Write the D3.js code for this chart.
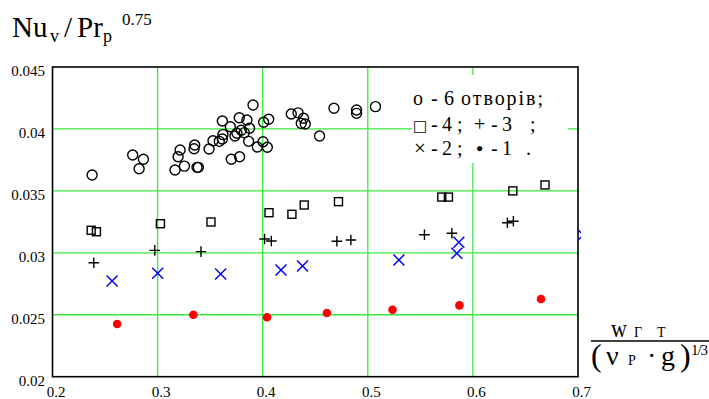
<!DOCTYPE html>
<html><head><meta charset="utf-8">
<script src="https://cdn.jsdelivr.net/npm/d3@7"></script>
<style>body{margin:0;background:#fff;}</style></head>
<body><svg id="c" width="709" height="399" font-family="Liberation Serif"></svg>
<script>
const xTicks=[0.2,0.3,0.4,0.5,0.6,0.7];
const yTicks=[0.02,0.025,0.03,0.035,0.04,0.045];
const xTickLabels=["0.2","0.3","0.4","0.5","0.6","0.7"];
const yTickLabels=["0.02","0.025","0.03","0.035","0.04","0.045"];
// 6 holes (open circles)
const circ6=[[0.2377,0.03628],[0.2763,0.0379],[0.2865,0.03755],[0.2824,0.03679],[0.3166,0.03669],[0.3214,0.0383],[0.3195,0.03776],[0.3255,0.0370],[0.3347,0.0384],[0.3353,0.0387],[0.3375,0.0369],[0.3388,0.0369],[0.349,0.03838],[0.3527,0.03905],[0.3587,0.0390],[0.3616,0.03919],[0.3622,0.03954],[0.3616,0.04064],[0.3692,0.04018],[0.3701,0.03755],[0.378,0.03776],[0.3736,0.03943],[0.3755,0.03965],[0.3777,0.0409],[0.3796,0.0399],[0.3825,0.0397],[0.385,0.04072],[0.3875,0.04005],[0.3866,0.0390],[0.3908,0.04193],[0.3949,0.03854],[0.4003,0.03897],[0.4044,0.03852],[0.4009,0.04054],[0.4057,0.04078],[0.4272,0.0412],[0.4336,0.0413],[0.4389,0.04086],[0.4367,0.04045],[0.4405,0.0404],[0.4541,0.03943],[0.4678,0.04167],[0.4893,0.04153],[0.4893,0.04126],[0.5073,0.0418]];
// 4 holes (open squares)
const sq4=[[0.2368,0.03182],[0.2418,0.0317],[0.3027,0.03235],[0.3508,0.03249],[0.406,0.03324],[0.4278,0.03311],[0.4395,0.03386],[0.4721,0.03413],[0.5704,0.0345],[0.5767,0.0345],[0.638,0.0350],[0.6686,0.03548]];
// 3 holes (plus)
const plus3=[[0.2393,0.0292],[0.2973,0.0302],[0.3413,0.0301],[0.4018,0.03112],[0.4082,0.03096],[0.4706,0.03093],[0.4839,0.03104],[0.5539,0.03146],[0.58,0.03158],[0.6328,0.03243],[0.6385,0.03255]];
// 2 holes (blue x)
const x2=[[0.2567,0.02773],[0.3001,0.02835],[0.36,0.02829],[0.4174,0.02861],[0.4379,0.02894],[0.5296,0.02942],[0.5866,0.03085],[0.5847,0.02996],[0.705,0.03144]];
// 1 hole (red dots)
const dot1=[[0.2615,0.02425],[0.334,0.0250],[0.4041,0.0248],[0.4611,0.02514],[0.5235,0.02541],[0.5872,0.02576],[0.6648,0.02627]];

const FONT="Liberation Serif";
const svg=d3.select("#c");
const L=52.5,R=578,T=67,B=376.7;
const x=d3.scaleLinear().domain([0.2,0.7]).range([L,R]);
const y=d3.scaleLinear().domain([0.02,0.045]).range([B,T]);

svg.append("defs").append("clipPath").attr("id","clip").append("rect")
  .attr("x",L).attr("y",T).attr("width",R-L+3).attr("height",B-T);

// grid
const g=svg.append("g");
g.selectAll(".gx").data(xTicks.slice(1,-1)).join("line")
  .attr("x1",d=>x(d)).attr("x2",d=>x(d)).attr("y1",T).attr("y2",B)
  .attr("stroke","#3ee83e").attr("stroke-width",1.3);
g.selectAll(".gy").data(yTicks.slice(1,-1)).join("line")
  .attr("y1",d=>y(d)).attr("y2",d=>y(d)).attr("x1",L).attr("x2",R)
  .attr("stroke","#3ee83e").attr("stroke-width",1.3);

// legend background
svg.append("rect").attr("x",412).attr("y",75).attr("width",156).attr("height",88).attr("fill","#fff");

// frame
svg.append("rect").attr("x",L).attr("y",T).attr("width",R-L).attr("height",B-T)
  .attr("fill","none").attr("stroke","#000").attr("stroke-width",1.6);

// tick labels
const xa=d3.axisBottom(x).tickValues(xTicks).tickSize(0).tickPadding(3).tickFormat((d,i)=>xTickLabels[i]);
const gxa=svg.append("g").attr("transform",`translate(0,383)`).call(xa)
  .attr("font-family",FONT).attr("font-size",15);
gxa.select(".domain").remove();
gxa.selectAll("text").attr("font-family",FONT).attr("font-size",15).attr("fill","#000").attr("dx",3);
const ya=d3.axisLeft(y).tickValues(yTicks).tickSize(0).tickPadding(3).tickFormat((d,i)=>yTickLabels[i]);
const gya=svg.append("g").attr("transform",`translate(48,0)`).call(ya)
  .attr("font-family",FONT).attr("font-size",15);
gya.select(".domain").remove();
gya.selectAll("text").attr("font-family",FONT).attr("font-size",15).attr("fill","#000").attr("y",3.8);

// data
const pg=svg.append("g").attr("clip-path","url(#clip)");
pg.selectAll(".c6").data(circ6).join("circle")
  .attr("cx",d=>x(d[0])).attr("cy",d=>y(d[1])).attr("r",5)
  .attr("fill","none").attr("stroke","#000").attr("stroke-width",1.4);
pg.selectAll(".s4").data(sq4).join("rect")
  .attr("x",d=>x(d[0])-4).attr("y",d=>y(d[1])-4).attr("width",8).attr("height",8)
  .attr("fill","none").attr("stroke","#000").attr("stroke-width",1.4);
pg.selectAll(".p3").data(plus3).join("path")
  .attr("d",d=>{const cx=x(d[0]),cy=y(d[1]);return `M${cx-5.3},${cy}H${cx+5.3}M${cx},${cy-5.3}V${cy+5.3}`;})
  .attr("stroke","#000").attr("stroke-width",1.4);
pg.selectAll(".x2").data(x2).join("path")
  .attr("d",d=>{const cx=x(d[0]),cy=y(d[1]);return `M${cx-5.5},${cy-5.5}L${cx+5.5},${cy+5.5}M${cx-5.5},${cy+5.5}L${cx+5.5},${cy-5.5}`;})
  .attr("stroke","#0000ff").attr("stroke-width",1.5);
pg.selectAll(".d1").data(dot1).join("circle")
  .attr("cx",d=>x(d[0])).attr("cy",d=>y(d[1])).attr("r",4.3).attr("fill","#ff0000");

// legend text
const lg=svg.append("g").attr("font-family",FONT).attr("font-size",20);
const l1=lg.append("text").attr("y",105);
l1.append("tspan").attr("x",413).text("о");
l1.append("tspan").attr("x",431).text("-");
l1.append("tspan").attr("x",444).text("6");
l1.append("tspan").attr("x",461).attr("textLength",82).attr("lengthAdjust","spacing").text("отворів;");
const l2=lg.append("text").attr("y",131);
l2.append("tspan").attr("x",413).attr("font-family","DejaVu Sans").attr("font-size",15).text("□");
l2.append("tspan").attr("x",431).text("-");
l2.append("tspan").attr("x",442).text("4");
l2.append("tspan").attr("x",457).text(";");
l2.append("tspan").attr("x",474).text("+");
l2.append("tspan").attr("x",491).text("-");
l2.append("tspan").attr("x",502).text("3");
l2.append("tspan").attr("x",530).text(";");
const l3=lg.append("text").attr("y",155);
l3.append("tspan").attr("x",414).attr("font-size",21).text("×");
l3.append("tspan").attr("x",431).text("-");
l3.append("tspan").attr("x",442).text("2");
l3.append("tspan").attr("x",457).text(";");
l3.append("tspan").attr("x",476).attr("font-size",12).attr("dy",-3).text("●");
l3.append("tspan").attr("x",491).attr("dy",3).text("-");
l3.append("tspan").attr("x",502).text("1");
l3.append("tspan").attr("x",526).text(".");

// y title
const yt=svg.append("text").attr("font-family",FONT).attr("font-size",29);
yt.append("tspan").attr("x",12).attr("y",37).text("Nu");
yt.append("tspan").attr("x",50).attr("y",41.5).attr("font-size",18).text("v");
yt.append("tspan").attr("x",64).attr("y",37).text("/");
yt.append("tspan").attr("x",77).attr("y",37).text("Pr");
yt.append("tspan").attr("x",103).attr("y",41.5).attr("font-size",18).text("p");
yt.append("tspan").attr("x",122).attr("y",25).attr("font-size",17).text("0.75");

// x title (fraction)
const xt=svg.append("text").attr("font-family",FONT).attr("font-size",26);
xt.append("tspan").attr("x",611).attr("y",337).attr("textLength",16).attr("lengthAdjust","spacingAndGlyphs").text("w");
xt.append("tspan").attr("x",634).attr("y",337).attr("font-size",14).text("Γ");
xt.append("tspan").attr("x",657).attr("y",337).attr("font-size",14).text("Т");
svg.append("line").attr("x1",591).attr("x2",709).attr("y1",341).attr("y2",341).attr("stroke","#000").attr("stroke-width",1.3);
const xb=svg.append("text").attr("font-family",FONT).attr("font-size",28);
xb.append("tspan").attr("x",591).attr("y",366).attr("font-size",32).text("(");
xb.append("tspan").attr("x",606).attr("y",365).text("ν");
xb.append("tspan").attr("x",628).attr("y",365).attr("font-size",14).text("P");
xb.append("tspan").attr("x",647).attr("y",365).text("·");
xb.append("tspan").attr("x",661).attr("y",365).text("g");
xb.append("tspan").attr("x",680).attr("y",366).attr("font-size",32).text(")");
xb.append("tspan").attr("x",691).attr("y",355).attr("font-size",15).attr("textLength",17).attr("lengthAdjust","spacing").text("1/3");
</script></body></html>
